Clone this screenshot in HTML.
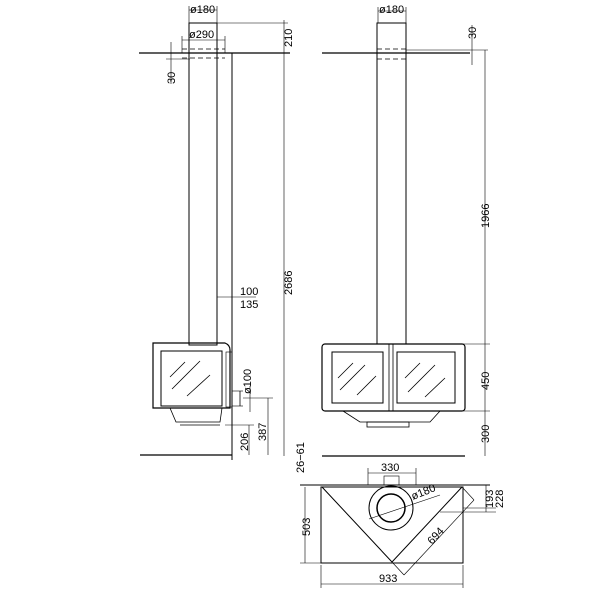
<!DOCTYPE html>
<html><head><style>html,body{margin:0;padding:0;background:#fff}svg{display:block}</style></head><body>
<svg width="600" height="600" viewBox="0 0 600 600" xmlns="http://www.w3.org/2000/svg" font-family="Liberation Sans, sans-serif" font-size="11" fill="none" stroke="#000" stroke-width="1">
<!-- LEFT VIEW -->
<line x1="139" y1="53" x2="290" y2="53" stroke-width="1.3"/>
<rect x="189" y="23" width="28" height="322"/>
<line x1="217" y1="23" x2="288" y2="23" stroke-width="0.6"/>
<line x1="182" y1="49" x2="225" y2="49" stroke-dasharray="5,3" stroke-width="0.8"/>
<line x1="182" y1="58" x2="225" y2="58" stroke-dasharray="5,3" stroke-width="0.8"/>
<line x1="232" y1="53" x2="232" y2="460"/>
<line x1="189" y1="10" x2="217" y2="10" stroke-width="0.6"/><line x1="189" y1="6" x2="189" y2="23" stroke-width="0.6"/><line x1="217" y1="6" x2="217" y2="23" stroke-width="0.6"/>
<text x="190" y="13" fill="#000" stroke="none">ø180</text>
<line x1="182" y1="40" x2="225" y2="40" stroke-width="0.6"/><line x1="182" y1="36" x2="182" y2="53" stroke-width="0.6"/><line x1="225" y1="36" x2="225" y2="53" stroke-width="0.6"/>
<text x="189" y="38" fill="#000" stroke="none">ø290</text>
<line x1="284" y1="20" x2="284" y2="456" stroke-width="0.6"/>
<text transform="translate(292,47) rotate(-90)" fill="#000" stroke="none">210</text>
<text transform="translate(292,295) rotate(-90)" fill="#000" stroke="none">2686</text>
<line x1="171" y1="42" x2="171" y2="84" stroke-width="0.6"/><line x1="166" y1="59" x2="190" y2="59" stroke-width="0.6"/>
<text transform="translate(175,84) rotate(-90)" fill="#000" stroke="none">30</text>
<line x1="217" y1="297" x2="256" y2="297" stroke-width="0.6"/>
<text x="240" y="295" fill="#000" stroke="none">100</text><text x="240" y="308" fill="#000" stroke="none">135</text>
<path d="M153 343 H225 Q230 345 230 350 V408 H153 Z" stroke-width="1.2"/>
<rect x="161" y="351" width="61" height="55"/>
<line x1="170" y1="377" x2="185" y2="362" stroke-width="0.8"/><line x1="172" y1="389" x2="200" y2="361" stroke-width="0.8"/><line x1="187" y1="396" x2="210" y2="375" stroke-width="0.8"/>
<path d="M170 408 L176 422 H220 L222 408" stroke-width="0.8"/><line x1="180" y1="425" x2="220" y2="425" stroke-width="0.8"/>
<rect x="226" y="352" width="6" height="55" stroke-width="0.6"/>
<line x1="140" y1="455" x2="232" y2="455" stroke-width="1.3"/>
<line x1="232" y1="391" x2="243" y2="391" stroke-width="0.6"/><line x1="232" y1="406" x2="243" y2="406" stroke-width="0.6"/><line x1="240" y1="391" x2="240" y2="406" stroke-width="0.8"/>
<line x1="250" y1="386" x2="250" y2="412" stroke-width="0.6"/>
<text transform="translate(251,394) rotate(-90)" fill="#000" stroke="none">ø100</text>
<line x1="243" y1="398" x2="273" y2="398" stroke-width="0.6"/><line x1="268" y1="398" x2="268" y2="455" stroke-width="0.6"/>
<text transform="translate(266,441) rotate(-90)" fill="#000" stroke="none">387</text>
<line x1="225" y1="425" x2="254" y2="425" stroke-width="0.6"/><line x1="249" y1="425" x2="249" y2="455" stroke-width="0.6"/>
<text transform="translate(248,451) rotate(-90)" fill="#000" stroke="none">206</text>
<text transform="translate(304,473) rotate(-90)" fill="#000" stroke="none">26−61</text>
<!-- RIGHT VIEW -->
<line x1="322" y1="53" x2="470" y2="53" stroke-width="1.3"/>
<line x1="406" y1="50" x2="488" y2="50" stroke-width="0.6"/>
<rect x="377" y="23" width="29" height="321"/>
<line x1="377" y1="49" x2="406" y2="49" stroke-dasharray="5,3" stroke-width="0.8"/>
<line x1="377" y1="59" x2="406" y2="59" stroke-dasharray="5,3" stroke-width="0.8"/>
<line x1="378" y1="11" x2="406" y2="11" stroke-width="0.6"/><line x1="378" y1="7" x2="378" y2="23" stroke-width="0.6"/><line x1="406" y1="7" x2="406" y2="23" stroke-width="0.6"/>
<text x="379" y="13" fill="#000" stroke="none">ø180</text>
<line x1="472" y1="25" x2="472" y2="65" stroke-width="0.6"/>
<text transform="translate(476,39) rotate(-90)" fill="#000" stroke="none">30</text>
<line x1="485" y1="50" x2="485" y2="456" stroke-width="0.6"/>
<text transform="translate(489,228) rotate(-90)" fill="#000" stroke="none">1966</text>
<text transform="translate(489,390) rotate(-90)" fill="#000" stroke="none">450</text>
<text transform="translate(489,443) rotate(-90)" fill="#000" stroke="none">300</text>
<line x1="458" y1="344" x2="490" y2="344" stroke-width="0.6"/>
<line x1="450" y1="411" x2="490" y2="411" stroke-width="0.6"/>
<rect x="322" y="344" width="143" height="67" rx="3" stroke-width="1.2"/>
<rect x="332" y="352" width="51" height="51"/><rect x="397" y="352" width="58" height="51"/>
<line x1="389" y1="344" x2="389" y2="411" stroke-width="0.8"/><line x1="393" y1="344" x2="393" y2="411" stroke-width="0.8"/>
<line x1="338" y1="378" x2="353" y2="363" stroke-width="0.8"/><line x1="340" y1="390" x2="365" y2="365" stroke-width="0.8"/><line x1="357" y1="395" x2="376" y2="376" stroke-width="0.8"/>
<line x1="405" y1="378" x2="420" y2="363" stroke-width="0.8"/><line x1="408" y1="392" x2="435" y2="365" stroke-width="0.8"/><line x1="425" y1="397" x2="445" y2="378" stroke-width="0.8"/>
<path d="M343 411 L360 422 H430 L440 411" stroke-width="0.8"/><rect x="367" y="422" width="42" height="5" stroke-width="0.8"/>
<line x1="322" y1="456" x2="465" y2="456" stroke-width="1.3"/>
<!-- PLAN VIEW -->
<line x1="300" y1="485" x2="490" y2="485" stroke-width="1"/>
<rect x="321" y="487" width="142" height="76"/>
<polyline points="322,487 392,562 462,487"/>
<circle cx="391" cy="508" r="22"/><circle cx="391" cy="508" r="14" stroke-width="1.5"/>
<line x1="369" y1="519" x2="440" y2="495" stroke-width="0.6"/>
<text transform="translate(413,500) rotate(-22)" fill="#000" stroke="none">ø180</text>
<line x1="368" y1="473" x2="416" y2="473" stroke-width="0.6"/><line x1="368" y1="468" x2="368" y2="485" stroke-width="0.6"/><line x1="416" y1="468" x2="416" y2="485" stroke-width="0.6"/>
<rect x="384" y="476" width="15" height="9" stroke-width="0.6"/>
<text x="381" y="471" fill="#000" stroke="none">330</text>
<line x1="462" y1="487" x2="474" y2="500" stroke-width="0.6"/><line x1="474" y1="500" x2="404" y2="575" stroke-width="0.6"/><line x1="392" y1="562" x2="404" y2="575" stroke-width="0.6"/>
<text transform="translate(432,545) rotate(-47)" fill="#000" stroke="none">694</text>
<line x1="305" y1="487" x2="305" y2="563" stroke-width="0.6"/><line x1="300" y1="563" x2="321" y2="563" stroke-width="0.6"/>
<text transform="translate(310,536) rotate(-90)" fill="#000" stroke="none">503</text>
<line x1="321" y1="565" x2="321" y2="588" stroke-width="0.6"/><line x1="463" y1="565" x2="463" y2="588" stroke-width="0.6"/>
<line x1="321" y1="584" x2="463" y2="584" stroke-width="0.6"/>
<text x="379" y="582" fill="#000" stroke="none">933</text>
<line x1="440" y1="512" x2="496" y2="512" stroke-width="0.6"/><line x1="463" y1="508" x2="496" y2="508" stroke-width="0.6"/>
<line x1="486" y1="485" x2="486" y2="512" stroke-width="0.6"/>
<text transform="translate(493,508) rotate(-90)" fill="#000" stroke="none">193</text>
<text transform="translate(503,508) rotate(-90)" fill="#000" stroke="none">228</text>
</svg>
</body></html>
